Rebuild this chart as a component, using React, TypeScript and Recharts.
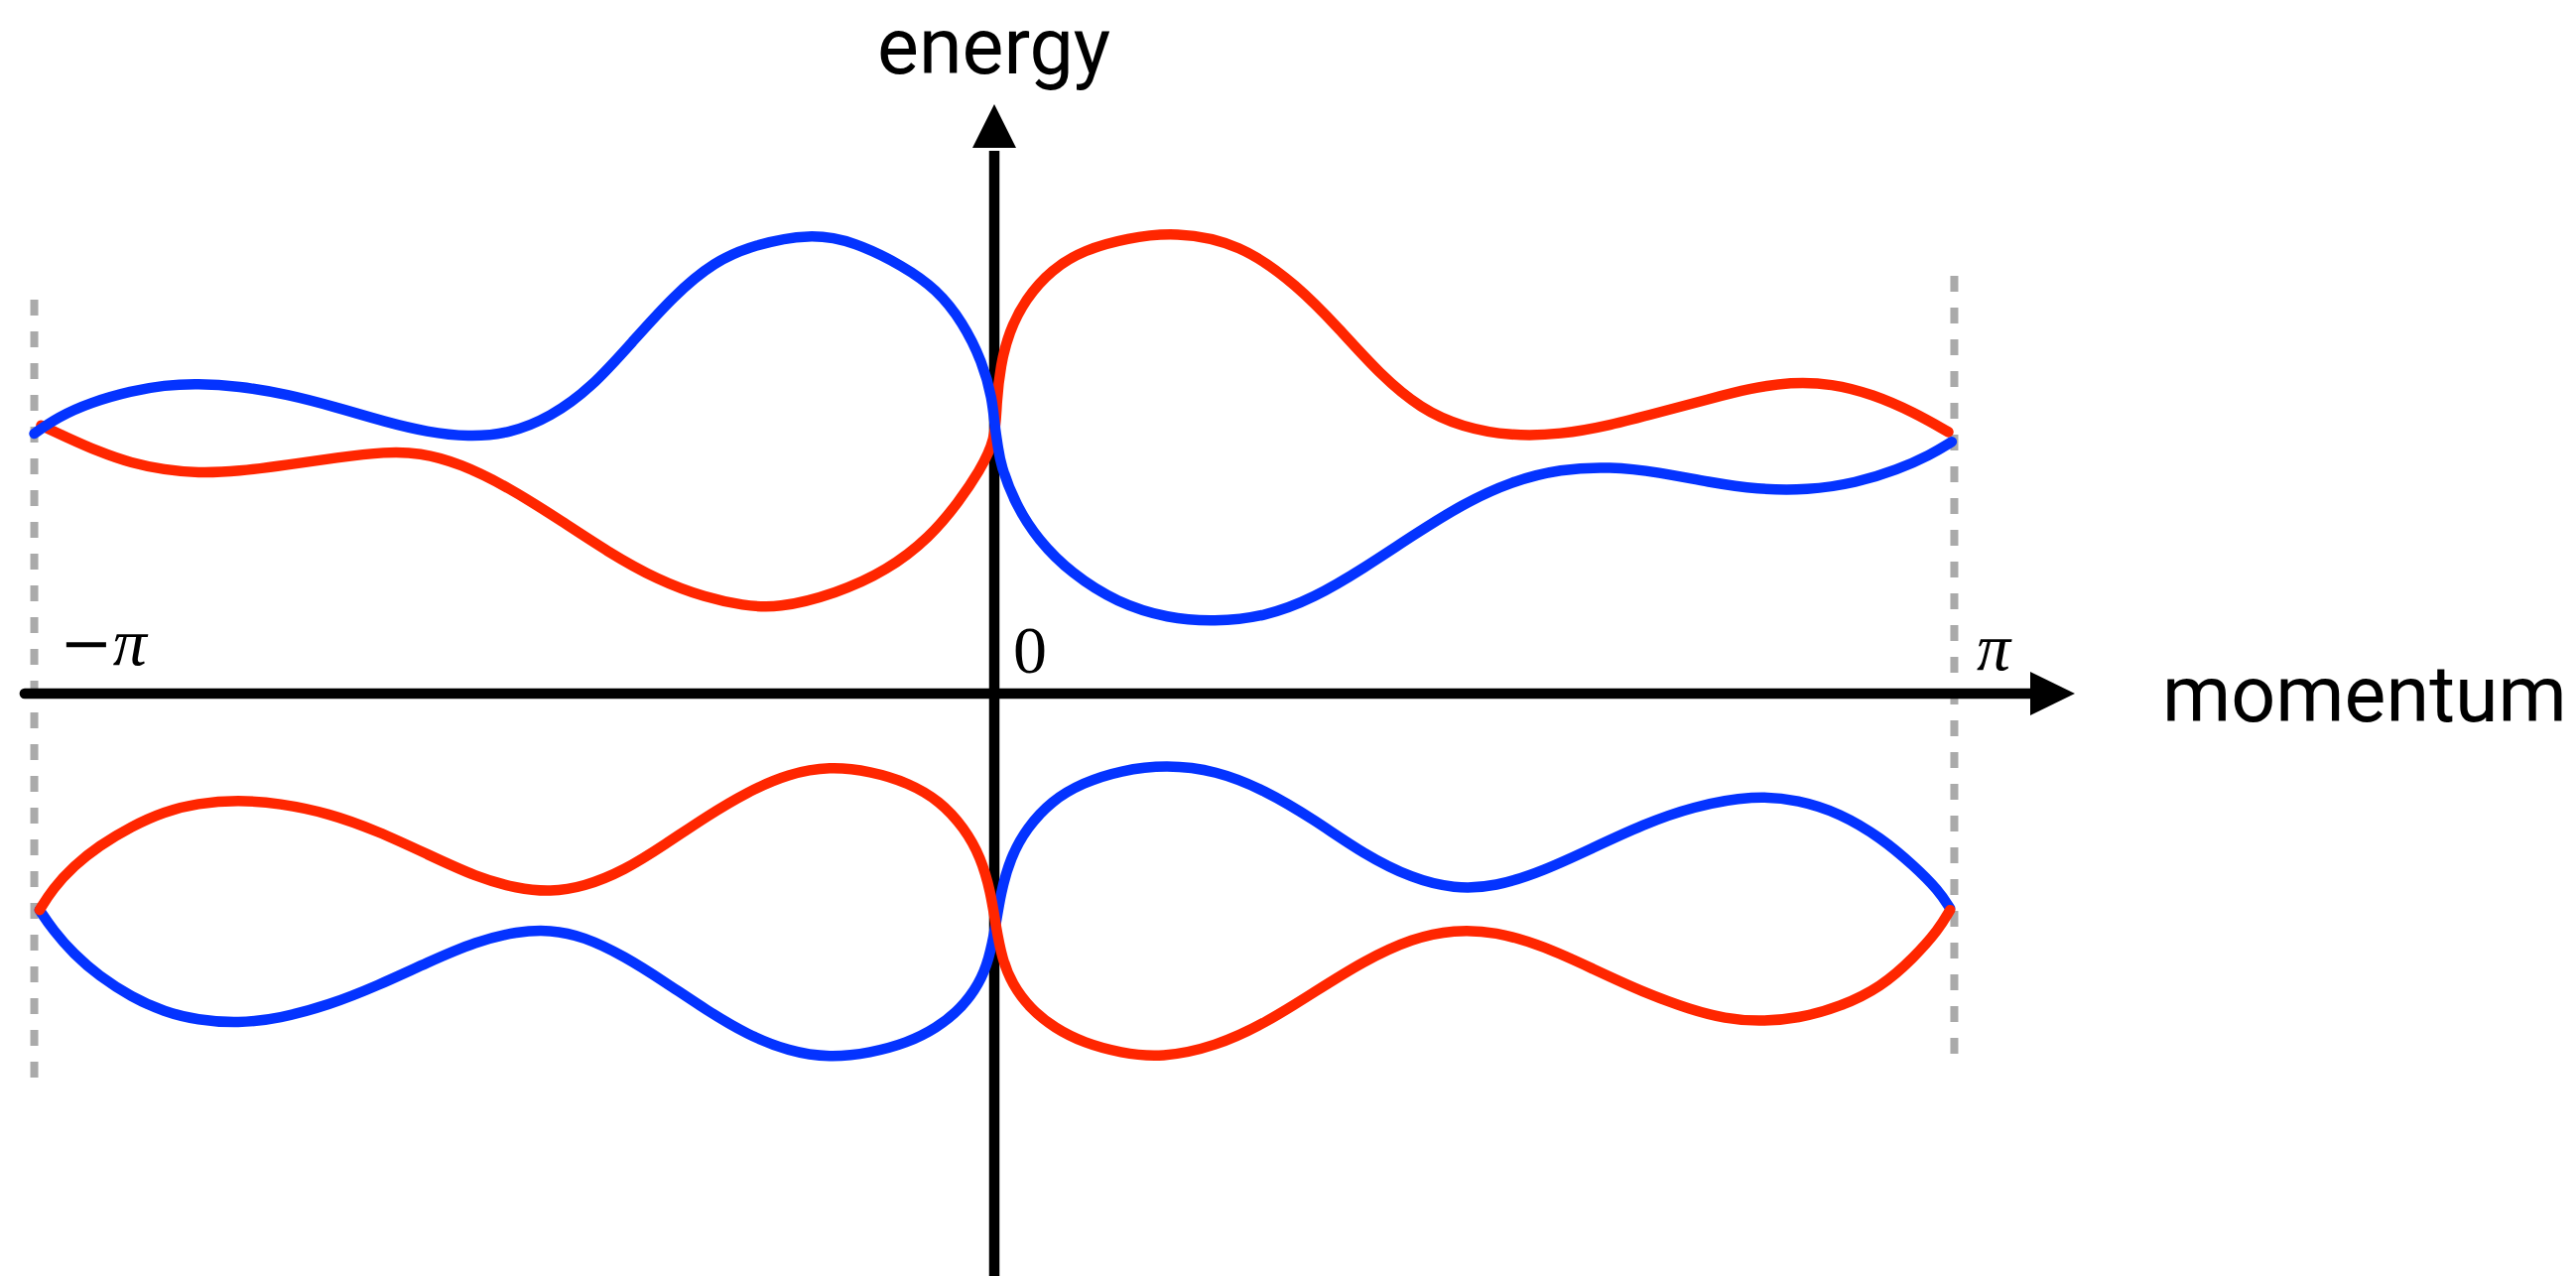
import { LineChart, Line, XAxis, YAxis, ReferenceLine, ReferenceDot } from "recharts";

// momentum k is in units of π, energy in arbitrary units (0 = horizontal axis)

// upper band, blue branch: upper lobe on the left, lower lobe on the right
const upperBlueK = [
  -1.0, -0.9757, -0.9415, -0.8987, -0.8645, -0.8303, -0.7875, -0.7361, -0.6848, -0.6335,
  -0.5907, -0.5479, -0.5051, -0.4624, -0.4196, -0.3768, -0.334, -0.2912, -0.2502, -0.192,
  -0.1458, -0.0945, -0.0602, -0.0329, -0.0123, -0.0021, 0.0005, 0.0039, 0.0065, 0.0219,
  0.0459, 0.0801, 0.128, 0.181, 0.2289, 0.282, 0.3333, 0.3847, 0.436, 0.4873,
  0.5387, 0.59, 0.6413, 0.6927, 0.744, 0.7953, 0.8467, 0.898, 0.9408, 0.975, 0.9973,
];
const upperBlueE = [
  1.582, 1.682, 1.772, 1.842, 1.877, 1.887, 1.872, 1.822, 1.742, 1.652,
  1.592, 1.562, 1.582, 1.682, 1.862, 2.142, 2.422, 2.632, 2.732, 2.802,
  2.752, 2.602, 2.462, 2.262, 2.017, 1.796, 1.622, 1.502, 1.392, 1.152,
  0.932, 0.732, 0.552, 0.457, 0.437, 0.467, 0.582, 0.762, 0.962, 1.152,
  1.292, 1.367, 1.382, 1.347, 1.287, 1.242, 1.237, 1.282, 1.362, 1.452, 1.532,
];

// upper band, red branch: lower lobe on the left, upper lobe on the right
const upperRedK = [
  -0.9928, -0.9671, -0.9329, -0.8987, -0.8645, -0.8303, -0.7875, -0.7361, -0.6848, -0.6335,
  -0.5992, -0.5565, -0.5051, -0.4538, -0.4025, -0.3511, -0.2998, -0.2621, -0.2262, -0.1646,
  -0.1116, -0.0671, -0.0363, -0.0157, 0.0014, 0.0022, 0.0065, 0.0151, 0.0322, 0.0596,
  0.0938, 0.1383, 0.1879, 0.256, 0.3162, 0.359, 0.4018, 0.4446, 0.4873, 0.5387,
  0.59, 0.6413, 0.6927, 0.744, 0.7868, 0.8296, 0.8723, 0.9151, 0.9579, 0.9938,
];
const upperRedE = [
  1.632, 1.562, 1.472, 1.402, 1.362, 1.342, 1.352, 1.392, 1.437, 1.472,
  1.467, 1.402, 1.252, 1.062, 0.862, 0.692, 0.582, 0.537, 0.517, 0.608,
  0.749, 0.95, 1.172, 1.352, 1.542, 1.772, 1.997, 2.199, 2.4, 2.582,
  2.702, 2.772, 2.812, 2.742, 2.482, 2.222, 1.942, 1.732, 1.622, 1.567,
  1.577, 1.632, 1.712, 1.792, 1.857, 1.897, 1.887, 1.822, 1.712, 1.592,
];

// lower band, red branch: upper lobe on the left, lower lobe on the right
const lowerRedK = [
  -0.9945, -0.9808, -0.9586, -0.9329, -0.8987, -0.8645, -0.8303, -0.7875, -0.7447, -0.6934,
  -0.642, -0.5907, -0.5394, -0.4966, -0.4624, -0.4281, -0.3854, -0.3426, -0.2998, -0.257,
  -0.2142, -0.1715, -0.1287, -0.0894, -0.0568, -0.0312, -0.014, -0.0038, 0.0014, 0.0082,
  0.0185, 0.0373, 0.063, 0.0938, 0.1314, 0.1742, 0.2307, 0.282, 0.3333, 0.3847,
  0.436, 0.4788, 0.5216, 0.5729, 0.6241, 0.6756, 0.7269, 0.7611, 0.7953, 0.8381,
  0.8809, 0.9237, 0.9579, 0.9836, 0.9956,
];
const lowerRedE = [
  -1.318, -1.188, -1.048, -0.928, -0.808, -0.718, -0.668, -0.648, -0.668, -0.728,
  -0.838, -0.978, -1.118, -1.188, -1.208, -1.178, -1.078, -0.918, -0.748, -0.598,
  -0.488, -0.443, -0.473, -0.543, -0.653, -0.818, -0.998, -1.208, -1.408, -1.618,
  -1.768, -1.918, -2.038, -2.128, -2.188, -2.218, -2.148, -2.008, -1.818, -1.628,
  -1.488, -1.438, -1.448, -1.538, -1.678, -1.818, -1.928, -1.978, -1.998, -1.978,
  -1.908, -1.788, -1.608, -1.438, -1.318,
];

// lower band, blue branch: lower lobe on the left, upper lobe on the right
const lowerBlueK = [
  -0.9945, -0.9808, -0.9586, -0.9329, -0.8987, -0.8645, -0.8303, -0.7875, -0.7447, -0.6934,
  -0.642, -0.5907, -0.5394, -0.4966, -0.4624, -0.4281, -0.3854, -0.3426, -0.2998, -0.257,
  -0.2142, -0.1715, -0.1287, -0.0911, -0.0603, -0.0346, -0.0157, -0.0055, 0.0014, 0.0065,
  0.0168, 0.0339, 0.0596, 0.0921, 0.1314, 0.1793, 0.2307, 0.282, 0.3333, 0.3847,
  0.436, 0.4788, 0.5216, 0.5729, 0.6241, 0.6756, 0.7269, 0.7919, 0.8381, 0.8809,
  0.9237, 0.9579, 0.9836, 0.9956,
];
const lowerBlueE = [
  -1.318, -1.438, -1.588, -1.718, -1.848, -1.938, -1.988, -2.008, -1.978, -1.898,
  -1.778, -1.638, -1.508, -1.448, -1.438, -1.478, -1.598, -1.758, -1.928, -2.078,
  -2.178, -2.218, -2.188, -2.128, -2.038, -1.918, -1.768, -1.618, -1.418, -1.218,
  -0.998, -0.818, -0.653, -0.543, -0.468, -0.433, -0.468, -0.588, -0.768, -0.978,
  -1.128, -1.188, -1.178, -1.078, -0.938, -0.798, -0.688, -0.618, -0.648, -0.728,
  -0.878, -1.048, -1.198, -1.308,
];

// zone boundaries at ±π
const zoneEdges = [-1, 1];

const BLUE = "#0433ff";
const RED = "#ff2600";
const W = 2596;
const H = 1286;

const toPoints = (k: number[], e: number[]) => k.map((x, i) => ({ k: x, e: e[i] }));

const ArrowRight = (p: any) => (
  <polygon
    points={`${p.cx},${p.cy} ${p.cx - 45},${p.cy - 22} ${p.cx - 45},${p.cy + 22}`}
    fill="#000"
  />
);

const ArrowUp = (p: any) => (
  <polygon
    points={`${p.cx},${p.cy} ${p.cx - 22},${p.cy + 44} ${p.cx + 22},${p.cy + 44}`}
    fill="#000"
  />
);

export default function App() {
  // B-spline through the sampled points: the bands loop back on themselves near k = 0
  const lineProps = {
    dataKey: "e",
    type: "basis" as const,
    strokeWidth: 10.5,
    strokeLinecap: "round" as const,
    dot: false,
    activeDot: false,
    isAnimationActive: false,
  };

  return (
    <div style={{ position: "absolute", left: 0, top: 0, width: W, height: H, background: "#fff" }}>
      <LineChart width={W} height={H} margin={{ top: 0, right: 0, bottom: 0, left: 0 }}>
        <XAxis type="number" dataKey="k" domain={[-1.0357, 1.6476]} hide allowDataOverflow />
        <YAxis type="number" domain={[-3.546, 4.222]} hide allowDataOverflow />

        <ReferenceLine
          segment={[{ x: zoneEdges[0], y: 2.398 }, { x: zoneEdges[0], y: -2.3375 }]}
          stroke="#aaaaaa"
          strokeWidth={8}
          strokeDasharray="16 16"
          ifOverflow="visible"
        />
        <ReferenceLine
          segment={[{ x: zoneEdges[1], y: 2.543 }, { x: zoneEdges[1], y: -2.193 }]}
          stroke="#aaaaaa"
          strokeWidth={8}
          strokeDasharray="16 16"
          ifOverflow="visible"
        />

        {/* axes */}
        <ReferenceLine
          segment={[{ x: -1.01, y: 0 }, { x: 1.083, y: 0 }]}
          stroke="#000"
          strokeWidth={10.5}
          strokeLinecap="round"
          ifOverflow="visible"
        />
        <ReferenceLine
          segment={[{ x: 0, y: -3.546 }, { x: 0, y: 3.304 }]}
          stroke="#000"
          strokeWidth={10.5}
          ifOverflow="visible"
        />
        <ReferenceDot x={1.1256} y={0} shape={ArrowRight} ifOverflow="visible" />
        <ReferenceDot x={0} y={3.588} shape={ArrowUp} ifOverflow="visible" />

        <Line data={toPoints(upperRedK, upperRedE)} stroke={RED} {...lineProps} />
        <Line data={toPoints(upperBlueK, upperBlueE)} stroke={BLUE} {...lineProps} />
        <Line data={toPoints(lowerBlueK, lowerBlueE)} stroke={BLUE} {...lineProps} />
        <Line data={toPoints(lowerRedK, lowerRedE)} stroke={RED} {...lineProps} />

        <text x={884} y={74} fontFamily="Roboto" fontSize={79} fill="#000">
          energy
        </text>
        <text x={2179} y={727} fontFamily="Roboto" fontSize={79} fill="#000">
          momentum
        </text>
        <text x={60} y={670} fontFamily="Liberation Serif" fontSize={68} fill="#000">
          <tspan fontFamily="DejaVu Serif" fontSize={64}>−</tspan>
          <tspan fontStyle="italic">π</tspan>
        </text>
        <text x={1021} y={678} fontFamily="Liberation Serif" fontSize={68} fill="#000">
          0
        </text>
        <text x={1992} y={675} fontFamily="Liberation Serif" fontStyle="italic" fontSize={68} fill="#000">
          π
        </text>
      </LineChart>
    </div>
  );
}
